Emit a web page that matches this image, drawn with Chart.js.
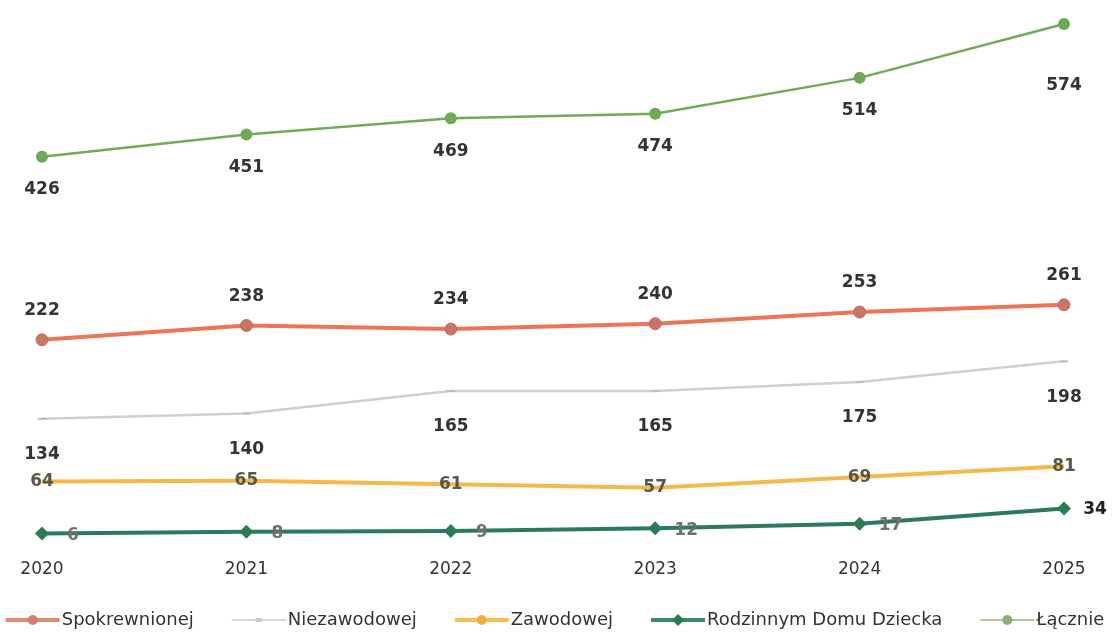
<!DOCTYPE html>
<html>
<head>
<meta charset="utf-8">
<script src="https://cdn.jsdelivr.net/npm/chart.js@4/dist/chart.umd.min.js"></script>
<style>
  html, body { margin: 0; padding: 0; background: #fff; }
  #wrap { width: 1118px; height: 632px; }
</style>
</head>
<body>
<div id="wrap"><canvas id="chart"></canvas></div>
<script>
var years = ["2020", "2021", "2022", "2023", "2024", "2025"];
var spokrewnionej = [222, 238, 234, 240, 253, 261];
var niezawodowej = [134, 140, 165, 165, 175, 198];
var zawodowej = [64, 65, 61, 57, 69, 81];
var rodzinnym = [6, 8, 9, 12, 17, 34];
var lacznie = [426, 451, 469, 474, 514, 574];

var FONT = "'DejaVu Sans', sans-serif";

/**
 * Draws one legend sample: a short line with a marker in the middle.
 */
function drawSample(ctx, x, y, s) {
  ctx.save();
  ctx.strokeStyle = s.color;
  ctx.lineWidth = s.lineWidth;
  ctx.beginPath();
  ctx.moveTo(x, y);
  ctx.lineTo(x + 54, y);
  ctx.stroke();
  ctx.fillStyle = s.marker;
  ctx.beginPath();
  var cx = x + 27;
  if (s.shape === "circle") {
    ctx.arc(cx, y, 5, 0, Math.PI * 2);
  } else if (s.shape === "diamond") {
    ctx.moveTo(cx, y - 6); ctx.lineTo(cx + 6, y); ctx.lineTo(cx, y + 6); ctx.lineTo(cx - 6, y);
    ctx.closePath();
  } else if (s.shape === "dash") {
    ctx.rect(cx - 3, y - 2, 6, 4);
  }
  ctx.fill();
  ctx.restore();
}

// bottom legend row: line sample + label for each series
var lineLegend = {
  id: "lineLegend",
  afterDraw: function (chart) {
    var ctx = chart.ctx;
    var y = 620;
    ctx.save();
    ctx.font = "18px " + FONT;
    var gap = 38;
    var total = 0;
    chart.data.datasets.forEach(function (ds, i) {
      total += 56 + ctx.measureText(ds.label).width + (i ? gap : 0);
    });
    var x = (chart.width - total) / 2 - 4;
    chart.data.datasets.forEach(function (ds) {
      drawSample(ctx, x, y, ds.legendSample);
      x += 56;
      ctx.fillStyle = "#333";
      ctx.textAlign = "left";
      ctx.textBaseline = "middle";
      ctx.fillText(ds.label, x, y);
      x += ctx.measureText(ds.label).width + gap;
    });
    ctx.restore();
  }
};

// draws the value labels next to each point
var valueLabels = {
  id: "valueLabels",
  afterDatasetsDraw: function (chart) {
    var ctx = chart.ctx;
    chart.data.datasets.forEach(function (ds, i) {
      var meta = chart.getDatasetMeta(i);
      var opt = ds.valueLabel;
      meta.data.forEach(function (pt, j) {
        var last = j === meta.data.length - 1;
        var dx = opt.dx, dy = opt.dy, color = opt.color;
        if (last && opt.lastDx !== undefined) dx = opt.lastDx;
        if (last && opt.lastDy !== undefined) dy = opt.lastDy;
        if (last && opt.lastColor) color = opt.lastColor;
        ctx.save();
        ctx.font = "bold 17px " + FONT;
        ctx.fillStyle = color;
        ctx.textAlign = "center";
        ctx.textBaseline = "middle";
        ctx.fillText(ds.data[j], pt.x + dx, pt.y + dy);
        ctx.restore();
      });
    });
  }
};

var datasets = [
  {
    label: "Spokrewnionej",
    data: spokrewnionej,
    borderColor: "#ee7457",
    backgroundColor: "#c97565",
    pointBorderColor: "#b8715f",
    borderWidth: 4,
    pointStyle: "circle",
    pointRadius: 6,
    pointBorderWidth: 1,
    legendSample: { color: "#e08a78", marker: "#d27f70", shape: "circle", lineWidth: 4 },
    valueLabel: { dx: 0, dy: -29, color: "#333" }
  },
  {
    label: "Niezawodowej",
    data: niezawodowej,
    borderColor: "#cfcfcf",
    backgroundColor: "#bdbdbd",
    borderWidth: 2.5,
    pointStyle: "line",
    pointRadius: 4,
    pointBorderColor: "#bdbdbd",
    pointBorderWidth: 2,
    legendSample: { color: "#d8d8d8", marker: "#c8c8c8", shape: "dash", lineWidth: 2 },
    valueLabel: { dx: 0, dy: 36, color: "#333" }
  },
  {
    label: "Zawodowej",
    data: zawodowej,
    borderColor: "#f5b94a",
    backgroundColor: "#f5b94a",
    borderWidth: 4,
    pointRadius: 0,
    legendSample: { color: "#f6bf55", marker: "#f0b040", shape: "circle", lineWidth: 4 },
    valueLabel: { dx: 0, dy: 0, color: "#5a5648" }
  },
  {
    label: "Rodzinnym Domu Dziecka",
    data: rodzinnym,
    borderColor: "#2b7b58",
    backgroundColor: "#2b7b58",
    borderWidth: 4,
    pointStyle: "rectRot",
    pointRadius: 7,
    pointBorderWidth: 0,
    legendSample: { color: "#3a8a66", marker: "#2b7b58", shape: "diamond", lineWidth: 4 },
    valueLabel: { dx: 31, dy: 2, color: "#707070", lastDx: 31, lastDy: 1, lastColor: "#222" }
  },
  {
    label: "Łącznie",
    data: lacznie,
    borderColor: "#72ab55",
    backgroundColor: "#6fa955",
    borderWidth: 2.5,
    pointStyle: "circle",
    pointRadius: 6,
    pointBorderWidth: 0,
    legendSample: { color: "#a9c79a", marker: "#8cae7a", shape: "circle", lineWidth: 2 },
    valueLabel: { dx: 0, dy: 33, color: "#333", lastDy: 62 }
  }
];

datasets.forEach(function (ds) {
  ds.fill = false;
  ds.tension = 0;
  ds.clip = false;
});

// invisible axis used only to reserve side space
function spacer(position, width) {
  return {
    type: "linear",
    position: position,
    display: true,
    grid: { display: false },
    border: { display: false },
    ticks: { display: false },
    afterFit: function (scale) { scale.width = width; }
  };
}

var yLeft = spacer("left", 42);
yLeft.min = 0;
yLeft.max = 593;

new Chart(document.getElementById("chart"), {
  type: "line",
  data: { labels: years, datasets: datasets },
  plugins: [valueLabels, lineLegend],
  options: {
    responsive: true,
    maintainAspectRatio: false,
    animation: false,
    layout: { padding: { top: 0, left: 0, right: 0, bottom: 48 } },
    scales: {
      x: {
        offset: false,
        grid: { display: false },
        border: { display: false },
        ticks: { color: "#333", font: { family: FONT, size: 17 }, padding: 12, maxRotation: 0 },
        afterFit: function (scale) { scale.height = 45; }
      },
      y: yLeft,
      yRight: spacer("right", 54)
    },
    plugins: {
      tooltip: { enabled: false },
      legend: { display: false }
    }
  }
});
</script>
</body>
</html>
